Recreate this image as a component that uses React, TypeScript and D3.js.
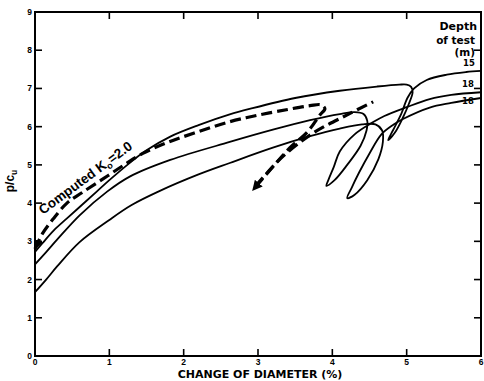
import React from "react";
import * as d3 from "d3";

type Pt = [number, number];

const xTicks = [0, 1, 2, 3, 4, 5, 6];
const yTicks = [0, 1, 2, 3, 4, 5, 6, 7, 8, 9];
const depthLabels = ["15", "18", "18"];

// Depth 15 m: loading, unload/reload loop, continued loading
const depth15: Pt[] = [
  [0, 2.72], [0.1, 2.95], [0.25, 3.28], [0.43, 3.6], [0.63, 3.95], [0.83, 4.3],
  [1.0, 4.6], [1.28, 5.06], [1.5, 5.38], [1.82, 5.74], [2.2, 6.04], [2.62, 6.32],
  [2.9, 6.47], [3.5, 6.75], [4.1, 6.94], [4.6, 7.05], [4.9, 7.1], [5.0, 7.1],
  [5.06, 7.04], [5.08, 6.9], [5.03, 6.6], [4.95, 6.24], [4.84, 5.84], [4.75, 5.65],
  [4.82, 5.92], [4.93, 6.35], [5.01, 6.75], [5.1, 7.0], [5.27, 7.22],
  [5.54, 7.36], [5.8, 7.43], [6.0, 7.46],
];

// Depth 18 m (first test)
const depth18a: Pt[] = [
  [0, 2.4], [0.15, 2.72], [0.3, 3.05], [0.6, 3.68], [0.97, 4.3], [1.28, 4.7],
  [1.82, 5.13], [2.62, 5.6], [3.2, 5.92], [3.7, 6.17], [4.1, 6.33], [4.3, 6.38],
  [4.42, 6.33], [4.47, 6.15], [4.46, 5.9], [4.38, 5.5], [4.2, 5.0], [4.03, 4.6],
  [3.92, 4.45], [3.95, 4.62], [4.02, 4.95], [4.1, 5.35], [4.3, 5.8], [4.55, 6.12],
  [4.7, 6.28], [5.0, 6.51], [5.31, 6.72], [5.6, 6.83], [6.0, 6.9],
];

// Depth 18 m (second test)
const depth18b: Pt[] = [
  [0, 1.67], [0.15, 2.0], [0.3, 2.35], [0.6, 2.98], [1.0, 3.56], [1.3, 3.95],
  [1.68, 4.32], [2.2, 4.75], [2.62, 5.05], [3.2, 5.45], [3.7, 5.75], [4.1, 5.95],
  [4.4, 6.06], [4.58, 6.06], [4.67, 5.9], [4.68, 5.6], [4.62, 5.15], [4.47, 4.6],
  [4.3, 4.22], [4.2, 4.13], [4.26, 4.4], [4.36, 4.8], [4.5, 5.3], [4.66, 5.8],
  [4.82, 6.05], [4.95, 6.2], [5.31, 6.5], [5.6, 6.62], [6.0, 6.75],
];

// Computed K0 = 2.0 : loading then unloading
const computedLoad: Pt[] = [
  [0, 2.8], [0.1, 3.2], [0.25, 3.6], [0.43, 4.0], [0.63, 4.27], [0.92, 4.64],
  [1.2, 5.0], [1.45, 5.3], [1.8, 5.6], [2.2, 5.87], [2.62, 6.13], [3.0, 6.3],
  [3.4, 6.45], [3.7, 6.55], [3.85, 6.57], [3.9, 6.47], [3.83, 6.3], [3.66, 5.85],
  [3.43, 5.45], [3.2, 4.95], [2.93, 4.34],
];
// Computed K0 = 2.0 : reloading
const computedReload: Pt[] = [
  [2.97, 4.45], [3.15, 4.85], [3.35, 5.25], [3.74, 5.83], [4.2, 6.31], [4.55, 6.65],
];

const W = 484;
const H = 381;
const left = 35;
const right = 481;
const top = 12;
const bottom = 356;

export default function App() {
  const x = d3.scaleLinear().domain([0, 6]).range([left, right]);
  const y = d3.scaleLinear().domain([0, 9]).range([bottom, top]);
  const line = d3
    .line<Pt>()
    .x((d) => x(d[0]))
    .y((d) => y(d[1]))
    .curve(d3.curveCatmullRom.alpha(0.5));

  const font = "'Liberation Sans', Arial, Helvetica, sans-serif";
  const wide = "'DejaVu Sans', Verdana, sans-serif";
  const labelX = [463, 462, 462];
  const labelBase = [66, 87, 104];

  return (
    <svg
      width={W}
      height={H}
      style={{ position: "absolute", left: 0, top: 0, background: "#fff" }}
      fontFamily={font}
    >
      <defs>
        <marker
          id="arr"
          viewBox="0 0 10 10"
          refX="9"
          refY="5"
          markerWidth="3.2"
          markerHeight="3.2"
          markerUnits="strokeWidth"
          orient="auto-start-reverse"
        >
          <path d="M0,0 L10,5 L0,10 Z" fill="#000" />
        </marker>
      </defs>
      <rect x={0} y={0} width={W} height={H} fill="#fff" />

      {/* frame */}
      <rect
        x={left}
        y={top}
        width={right - left}
        height={bottom - top}
        fill="none"
        stroke="#000"
        strokeWidth={2}
      />

      {/* x ticks (inward, top and bottom) */}
      {xTicks.map((t) => (
        <g key={"xt" + t}>
          <line x1={x(t)} x2={x(t)} y1={bottom} y2={bottom - 7} stroke="#000" strokeWidth={1.6} />
          <line x1={x(t)} x2={x(t)} y1={top} y2={top + 7} stroke="#000" strokeWidth={1.6} />
          <text
            x={x(t)}
            y={365}
            textAnchor="middle"
            fontSize={8.5}
            fontWeight={700}
          >
            {t}
          </text>
        </g>
      ))}

      {/* y ticks (inward, left and right) */}
      {yTicks.map((t) => (
        <g key={"yt" + t}>
          <line x1={left} x2={left + 7} y1={y(t)} y2={y(t)} stroke="#000" strokeWidth={1.6} />
          <line x1={right} x2={right - 7} y1={y(t)} y2={y(t)} stroke="#000" strokeWidth={1.6} />
          <text
            x={32}
            y={y(t) + 3}
            textAnchor="end"
            fontSize={8.5}
            fontWeight={700}
          >
            {t}
          </text>
        </g>
      ))}

      {/* curves */}
      {[depth15, depth18a, depth18b].map((c, i) => (
        <path key={"c" + i} d={line(c) || ""} fill="none" stroke="#000" strokeWidth={1.8} />
      ))}
      <path
        d={line(computedLoad) || ""}
        fill="none"
        stroke="#000"
        strokeWidth={3.2}
        strokeDasharray="11 5"
        markerStart="url(#arr)"
        markerEnd="url(#arr)"
      />
      <path
        d={line(computedReload) || ""}
        fill="none"
        stroke="#000"
        strokeWidth={3.2}
        strokeDasharray="11 5"
      />

      {/* computed label */}
      <text
        transform="translate(43,215) rotate(-36.5)"
        fontSize={13.5}
        fontWeight={700}
      >
        Computed K
        <tspan fontSize={9} dy={3}>o</tspan>
        <tspan dy={-3}>=2.0</tspan>
      </text>

      {/* depth legend */}
      <g fontFamily={wide} fontWeight={700}>
        <text x={477} y={30} textAnchor="end" fontSize={11}>Depth</text>
        <text x={475} y={44} textAnchor="end" fontSize={10.5}>of test</text>
        <text x={475} y={56} textAnchor="end" fontSize={10.5}>(m)</text>
        {depthLabels.map((d, i) => (
          <text key={"dl" + i} x={labelX[i]} y={labelBase[i]} fontSize={8.5}>
            {d}
          </text>
        ))}
      </g>

      {/* axis titles */}
      <text
        x={260}
        y={378}
        textAnchor="middle"
        fontSize={11}
        fontWeight={700}
        fontFamily={wide}
      >
        CHANGE OF DIAMETER (%)
      </text>
      <text
        transform="translate(14,181) rotate(-90)"
        textAnchor="middle"
        fontSize={12}
        fontWeight={700}
      >
        p/c
        <tspan fontSize={8.5} dy={2.5}>u</tspan>
      </text>
    </svg>
  );
}
